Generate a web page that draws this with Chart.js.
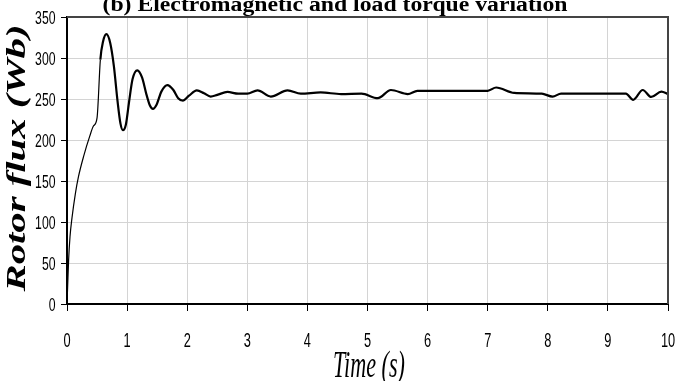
<!DOCTYPE html>
<html>
<head>
<meta charset="utf-8">
<title>Rotor flux</title>
<script src="https://cdn.jsdelivr.net/npm/chart.js@4/dist/chart.umd.min.js"></script>
<style>
  html, body { margin: 0; padding: 0; background: #fff; }
  #myChart { display: block; }
</style>
</head>
<body>
<canvas id="myChart" width="679" height="381"></canvas>
<script>
// rotor flux response, time in seconds
var timeS = [0, 0.01, 0.027, 0.05, 0.083, 0.14, 0.19, 0.28, 0.38, 0.44, 0.5,
    0.555, 0.6, 0.655, 0.72, 0.78, 0.84, 0.89, 0.93, 0.98, 1.03, 1.09, 1.17, 1.25,
    1.32, 1.38, 1.43, 1.49, 1.57, 1.67, 1.77, 1.85, 1.93, 2.03, 2.16, 2.28, 2.39,
    2.5, 2.67, 2.85, 3.0, 3.17, 3.39, 3.67, 3.89, 4.22, 4.56, 4.9, 5.17, 5.39, 5.67,
    5.83, 6.4, 7.0, 7.14, 7.44, 7.9, 8.08, 8.22, 8.9, 9.3, 9.42, 9.58, 9.72, 9.89, 10];
var fluxWb = [0, 20, 54, 82, 105, 135, 155, 181, 205, 217, 227,
    298, 320, 329, 318, 290, 248, 220, 212, 219, 245, 274, 285, 276,
    256, 242, 238, 243, 259, 267, 261, 251, 248, 254, 260.5, 257, 253,
    255, 258.6, 256.5, 256.5, 260.5, 253, 260.5, 256.5, 258, 256, 256.5, 251, 261, 256,
    260, 260, 260, 264, 257.4, 256.5, 253, 256.5, 256.5, 256.5, 249, 261, 252.5, 259, 256];

var xTicks = [0, 1, 2, 3, 4, 5, 6, 7, 8, 9, 10];
var yTicks = [0, 50, 100, 150, 200, 250, 300, 350];

var chartTitle = "(b) Electromagnetic and load torque variation";
var xTitle = "Time (s)";
var yTitle = "Rotor flux (Wb)";

var points = [];
for (var i = 0; i < timeS.length; i++) {
  points.push({ x: timeS[i], y: fluxWb[i] });
}

// text squeezed or stretched to a given width
function drawFitted(ctx, text, font, width) {
  ctx.font = font;
  var w = ctx.measureText(text).width;
  ctx.scale(width / w, 1);
  ctx.fillText(text, 0, 0);
}

// narrow text: plain font scaled down horizontally
function drawNarrow(ctx, text, x, y, font, sx) {
  ctx.save();
  ctx.translate(x, y);
  ctx.scale(sx, 1);
  ctx.font = font;
  ctx.fillText(text, 0, 0);
  ctx.restore();
}

var decorPlugin = {
  id: 'decor',
  afterDraw: function(chart) {
    var ctx = chart.ctx;
    var a = chart.chartArea;
    var xs = chart.scales.x;
    var ys = chart.scales.y;

    // frame on top and right
    ctx.save();
    ctx.strokeStyle = '#444';
    ctx.lineWidth = 2;
    ctx.beginPath();
    ctx.moveTo(a.left, a.top);
    ctx.lineTo(a.right, a.top);
    ctx.lineTo(a.right, a.bottom);
    ctx.stroke();
    ctx.restore();

    ctx.save();
    ctx.fillStyle = '#000';

    // tick labels, placed from the scales
    ctx.textBaseline = 'alphabetic';
    ctx.textAlign = 'center';
    xs.ticks.forEach(function(t) {
      drawNarrow(ctx, String(t.value), xs.getPixelForValue(t.value), 346.5,
        "20px 'Liberation Sans', sans-serif", 0.64);
    });
    ctx.textAlign = 'right';
    ys.ticks.forEach(function(t) {
      drawNarrow(ctx, String(t.value), 55.5, ys.getPixelForValue(t.value) + 6.5,
        "18px 'Liberation Sans', sans-serif", 0.68);
    });

    ctx.textAlign = 'center';

    // title
    ctx.save();
    ctx.translate(335, 11);
    drawFitted(ctx, chartTitle, "bold 20px 'Liberation Serif', serif", 465);
    ctx.restore();

    // x title
    ctx.save();
    ctx.translate(369, 377);
    drawFitted(ctx, xTitle, "italic 37px 'Liberation Serif', serif", 72);
    ctx.restore();

    // y title
    ctx.save();
    ctx.translate(25, 158);
    ctx.rotate(-Math.PI / 2);
    drawFitted(ctx, yTitle, "bold italic 28px 'Liberation Serif', serif", 267);
    ctx.restore();

    ctx.restore();
  }
};

var ctx = document.getElementById('myChart').getContext('2d');
var myChart = new Chart(ctx, {
  type: 'line',
  data: {
    datasets: [{
      data: points,
      borderColor: '#000',
      borderWidth: 2,
      pointRadius: 0,
      fill: false,
      cubicInterpolationMode: 'monotone',
      segment: {
        // start-up part is drawn thinner
        borderWidth: function(c) { return c.p1.parsed.x <= 0.56 ? 1.2 : 2.2; }
      }
    }]
  },
  options: {
    responsive: false,
    devicePixelRatio: 1,
    animation: false,
    layout: { padding: { left: 0, right: 11, top: 17, bottom: 0 } },
    plugins: {
      legend: { display: false },
      tooltip: { enabled: false },
      title: { display: false }
    },
    scales: {
      x: {
        type: 'linear',
        min: 0,
        max: 10,
        afterBuildTicks: function(s) { s.ticks = xTicks.map(function(v) { return { value: v }; }); },
        afterFit: function(s) { s.height = 77; },
        grid: { color: '#d4d4d4', lineWidth: 1, tickColor: '#000', tickLength: 7 },
        border: { color: '#000', width: 2 },
        ticks: { display: false }
      },
      y: {
        min: 0,
        max: 350,
        afterBuildTicks: function(s) { s.ticks = yTicks.map(function(v) { return { value: v }; }); },
        afterFit: function(s) { s.width = 67; },
        grid: { color: '#d4d4d4', lineWidth: 1, tickColor: '#000', tickLength: 6 },
        border: { color: '#000', width: 2 },
        ticks: { display: false }
      }
    }
  },
  plugins: [decorPlugin]
});
</script>
</body>
</html>
